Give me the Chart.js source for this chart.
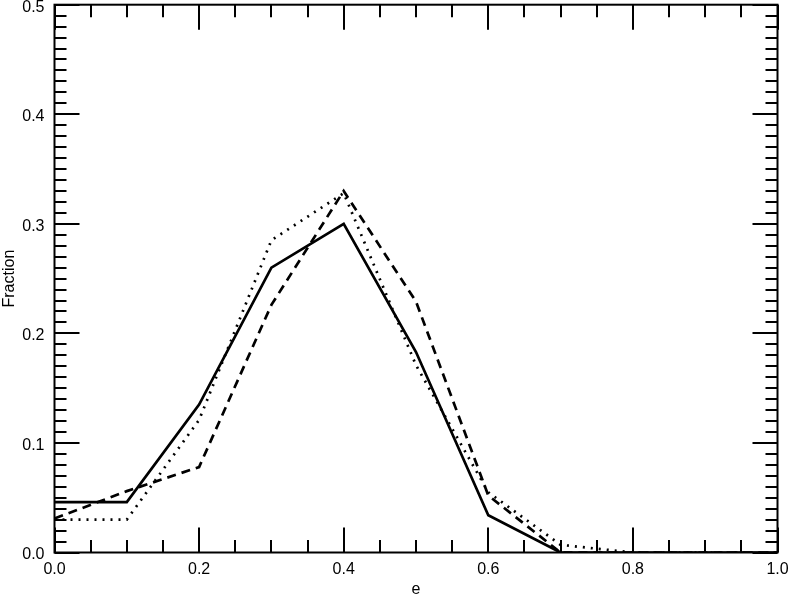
<!DOCTYPE html>
<html>
<head>
<meta charset="utf-8">
<script src="https://cdn.jsdelivr.net/npm/chart.js@4.4.1/dist/chart.umd.min.js"></script>
<style>
html,body{margin:0;padding:0;background:#fff;}
#wrap{width:789px;height:594px;position:relative;}
</style>
</head>
<body>
<div id="wrap"><canvas id="c" width="789" height="594"></canvas></div>
<script>
const eValues = [0.0, 0.1, 0.2, 0.3, 0.4, 0.5, 0.6, 0.7, 0.8, 0.9, 1.0];
const solidSeries  = [0.046, 0.046, 0.135, 0.260, 0.300, 0.183, 0.034, 0.000, 0.000, 0.000, 0.000];
const dashedSeries = [0.031, 0.056, 0.078, 0.226, 0.330, 0.229, 0.052, 0.000, 0.000, 0.000, 0.000];
const dottedSeries = [0.030, 0.030, 0.121, 0.285, 0.328, 0.171, 0.055, 0.007, 0.000, 0.000, 0.000];
const xTickLabels = ['0.0', '0.2', '0.4', '0.6', '0.8', '1.0'];
const yTickLabels = ['0.0', '0.1', '0.2', '0.3', '0.4', '0.5'];

const FONT = '"Liberation Sans", Helvetica, Arial, sans-serif';

function pts(arr){ return eValues.map((x,i)=>({x:x, y:arr[i]})); }

const tickPlugin = {
  id: 'idlTicks',
  afterDatasetsDraw(chart){
    const ctx = chart.ctx, a = chart.chartArea;
    const xs = chart.scales.x, ys = chart.scales.y;
    ctx.save();
    ctx.strokeStyle = '#000';
    ctx.lineWidth = 2;
    ctx.lineCap = 'butt';
    ctx.strokeRect(a.left, a.top, a.right - a.left, a.bottom - a.top);
    ctx.beginPath();
    for (let i = 0; i <= 20; i++) {
      const v = i * 0.05;
      const px = Math.round(xs.getPixelForValue(v));
      const len = (i % 4 === 0) ? 25 : 12.5;
      ctx.moveTo(px, a.bottom); ctx.lineTo(px, a.bottom - len);
      ctx.moveTo(px, a.top); ctx.lineTo(px, a.top + len);
    }
    for (let i = 0; i <= 50; i++) {
      const v = i * 0.01;
      const py = Math.round(ys.getPixelForValue(v));
      const len = (i % 10 === 0) ? 25 : 12;
      ctx.moveTo(a.left, py); ctx.lineTo(a.left + len, py);
      ctx.moveTo(a.right, py); ctx.lineTo(a.right - len, py);
    }
    ctx.stroke();
    ctx.restore();
  }
};

new Chart(document.getElementById('c'), {
  type: 'line',
  data: {
    datasets: [
      { label: 'solid', data: pts(solidSeries), borderColor: '#000', borderWidth: 2.7, pointRadius: 0, tension: 0, fill: false },
      { label: 'dashed', data: pts(dashedSeries), borderColor: '#000', borderWidth: 2.7, borderDash: [9, 6], pointRadius: 0, tension: 0, fill: false },
      { label: 'dotted', data: pts(dottedSeries), borderColor: '#000', borderWidth: 2.7, borderDash: [2, 6], pointRadius: 0, tension: 0, fill: false }
    ]
  },
  options: {
    responsive: false,
    animation: false,
    devicePixelRatio: 1,
    layout: { padding: { top: 4.7, right: 11.5, left: 0, bottom: 0 } },
    plugins: { legend: { display: false }, tooltip: { enabled: false } },
    scales: {
      x: {
        type: 'linear', min: 0, max: 1,
        afterFit(s){ s.height = 41.5; s.paddingLeft = 0; s.paddingRight = 0; },
        grid: { display: false, drawTicks: false },
        border: { display: false },
        ticks: {
          stepSize: 0.2, padding: 7, color: '#000', maxRotation: 0,
          font: { family: FONT, size: 16 },
          callback: (v) => { const i = Math.round(v / 0.2); return xTickLabels[i] ?? ''; }
        },
        title: { display: true, text: 'e', color: '#000', font: { family: FONT, size: 16 }, padding: { top: 0, bottom: -5 } }
      },
      y: {
        type: 'linear', min: 0, max: 0.5,
        afterFit(s){ s.width = 54.5; s.paddingTop = 0; s.paddingBottom = 0; },
        grid: { display: false, drawTicks: false },
        border: { display: false },
        ticks: {
          stepSize: 0.1, padding: 10, color: '#000', labelOffset: 2.5,
          font: { family: FONT, size: 16 },
          callback: (v) => { const i = Math.round(v / 0.1); return yTickLabels[i] ?? ''; }
        },
        title: { display: true, text: 'Fraction', color: '#000', font: { family: FONT, size: 16 }, padding: { top: 0, bottom: 0 } }
      }
    }
  },
  plugins: [tickPlugin]
});
</script>
</body>
</html>
